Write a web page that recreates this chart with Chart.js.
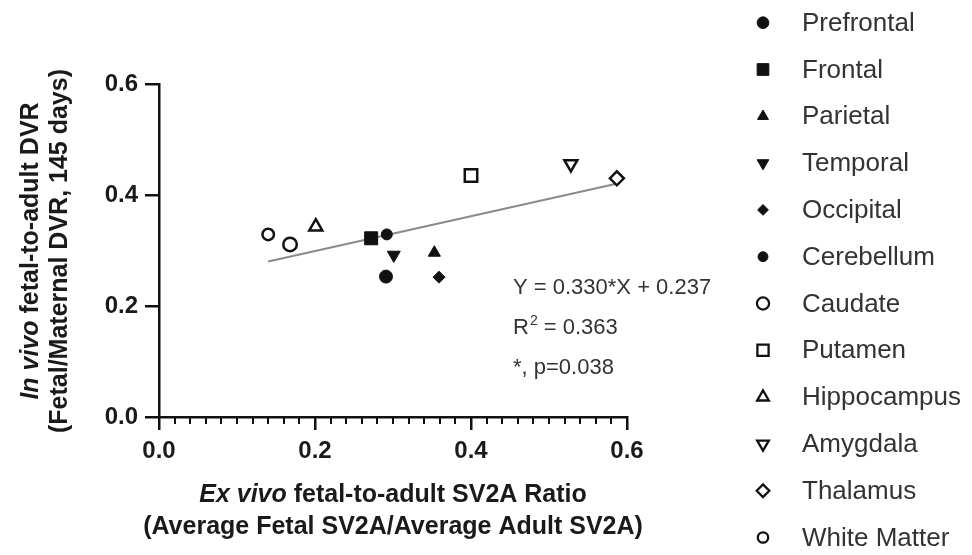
<!DOCTYPE html>
<html><head><meta charset="utf-8">
<script src="https://cdn.jsdelivr.net/npm/chart.js@4.4.1/dist/chart.umd.min.js"></script>
<style>html,body{margin:0;padding:0;background:#fff;}canvas{display:block;}</style>
</head><body>
<canvas id="c" width="972" height="555"></canvas>
<script>
// ---- data ----
const regions = ['Prefrontal','Frontal','Parietal','Temporal','Occipital','Cerebellum','Caudate','Putamen','Hippocampus','Amygdala','Thalamus','White Matter'];
const exVivoRatio = [0.291,0.272,0.353,0.301,0.359,0.292,0.168,0.400,0.201,0.528,0.587,0.140];
const inVivoDVR   = [0.253,0.322,0.296,0.292,0.252,0.329,0.311,0.435,0.343,0.456,0.430,0.329];
const fitLineX = [0.140, 0.585];
const fitLineY = [0.280, 0.420];
const statsText = ['Y = 0.330*X + 0.237', '0.363', '*, p=0.038'];
const xTitle = ['Ex vivo', ' fetal-to-adult SV2A Ratio', '(Average Fetal SV2A/Average Adult SV2A)'];
const yTitle = ['In vivo', ' fetal-to-adult DVR', '(Fetal/Maternal DVR, 145 days)'];

// ---- styles ----
const markerStyles = [
  {s:'circle', r:6.5, rot:0, fill:true},
  {s:'rect', r:9.2, rot:0, fill:true},
  {s:'triangle', r:7, rot:0, fill:true},
  {s:'triangle', r:7.5, rot:180, fill:true},
  {s:'rectRot', r:6, rot:0, fill:true},
  {s:'circle', r:5.5, rot:0, fill:true},
  {s:'circle', r:6.75, rot:0, fill:false},
  {s:'rect', r:8.8, rot:0, fill:false},
  {s:'triangle', r:7.5, rot:0, fill:false},
  {s:'triangle', r:7.5, rot:180, fill:false},
  {s:'rectRot', r:7, rot:0, fill:false},
  {s:'circle', r:5.75, rot:0, fill:false}
];
const INK = '#111';
const FONT = '"Liberation Sans", Arial, Helvetica, sans-serif';

const pointSets = regions.map((name, i) => {
  const st = markerStyles[i];
  return {
    label: name,
    data: [{x: exVivoRatio[i], y: inVivoDVR[i]}],
    xAxisID: 'x', yAxisID: 'y',
    pointStyle: st.s,
    pointRadius: st.r,
    pointHoverRadius: st.r,
    pointRotation: st.rot,
    pointBackgroundColor: st.fill ? INK : '#fff',
    pointBorderColor: INK,
    pointBorderWidth: st.fill ? 1 : 2.5,
    order: 0
  };
});
const fitSet = {
  type: 'line', label: 'fit', isFit: true,
  data: fitLineX.map((x, i) => ({x, y: fitLineY[i]})),
  xAxisID: 'x', yAxisID: 'y',
  borderColor: '#8a8a8a', borderWidth: 2, pointRadius: 0, showLine: true, fill: false, order: 1
};

function mixedLine(ctx, parts, cx, y, size) {
  ctx.font = 'italic bold ' + size + 'px ' + FONT;
  const w1 = ctx.measureText(parts[0]).width;
  ctx.font = 'bold ' + size + 'px ' + FONT;
  const w2 = ctx.measureText(parts[1]).width;
  const sx = cx - (w1 + w2) / 2;
  ctx.textAlign = 'left';
  ctx.font = 'italic bold ' + size + 'px ' + FONT;
  ctx.fillText(parts[0], sx, y);
  ctx.font = 'bold ' + size + 'px ' + FONT;
  ctx.fillText(parts[1], sx + w1, y);
}

const textPlugin = {
  id: 'texts',
  afterDraw(chart) {
    const ctx = chart.ctx;
    const ca = chart.chartArea;
    ctx.save();
    ctx.fillStyle = '#1a1a1a';
    ctx.textBaseline = 'alphabetic';
    // x title
    const cx = (ca.left + ca.right) / 2;
    mixedLine(ctx, xTitle, cx, 502, 25);
    ctx.textAlign = 'center';
    ctx.font = 'bold 25px ' + FONT;
    ctx.fillText(xTitle[2], cx, 534);
    // y title
    ctx.save();
    ctx.translate(38, 251);
    ctx.rotate(-Math.PI / 2);
    mixedLine(ctx, yTitle, 0, 0, 25);
    ctx.textAlign = 'center';
    ctx.font = 'bold 25px ' + FONT;
    ctx.fillText(yTitle[2], 0, 29);
    ctx.restore();
    // stats text
    ctx.fillStyle = '#333';
    ctx.textAlign = 'left';
    ctx.textBaseline = 'middle';
    ctx.font = '22px ' + FONT;
    ctx.fillText(statsText[0], 513, 288);
    ctx.fillText('R', 513, 328);
    const rw = ctx.measureText('R').width;
    ctx.font = '14px ' + FONT;
    ctx.fillText('2', 513 + rw + 1, 321);
    const sw = ctx.measureText('2').width;
    ctx.font = '22px ' + FONT;
    ctx.fillText(' = ' + statsText[1], 513 + rw + 1 + sw, 328);
    ctx.fillText(statsText[2], 513, 368);
    // legend
    const ds = chart.data.datasets.filter(d => !d.isFit);
    ds.forEach((d, i) => {
      const y = 22.7 + i * 46.8;
      const st = markerStyles[i];
      ctx.fillStyle = d.pointBackgroundColor;
      ctx.strokeStyle = d.pointBorderColor;
      ctx.lineWidth = st.fill ? 1 : 2.3;
      Chart.helpers.drawPoint(ctx, {pointStyle: st.s, rotation: st.rot, radius: st.r * 0.9, borderWidth: st.fill ? 1 : 2.3}, 763, y);
      ctx.fillStyle = '#333';
      ctx.font = '26px ' + FONT;
      ctx.textBaseline = 'middle';
      ctx.textAlign = 'left';
      ctx.fillText(d.label, 802, y + 1);
    });
    ctx.restore();
  }
};

const tickFont = {family: FONT, weight: 'bold', size: 24};
new Chart(document.getElementById('c').getContext('2d'), {
  type: 'scatter',
  data: {datasets: [...pointSets, fitSet]},
  options: {
    responsive: false, animation: false, devicePixelRatio: 1,
    layout: {padding: {left: 0, top: 84, right: 345, bottom: 0}},
    plugins: {legend: {display: false}, tooltip: {enabled: false}},
    scales: {
      x: {
        type: 'linear', position: 'bottom', min: 0, max: 0.6, weight: 1,
        afterFit(s) { s.height = 138; },
        border: {display: true, color: INK, width: 2.5},
        grid: {display: true, drawOnChartArea: false, drawTicks: true, tickLength: 13, color: INK, lineWidth: 2.5},
        ticks: {stepSize: 0.2, autoSkip: false, maxRotation: 0, padding: 7, color: '#1a1a1a', font: tickFont, callback: v => Number(v).toFixed(1)}
      },
      xMinor: {
        type: 'linear', position: 'bottom', min: 0, max: 0.6, weight: 0,
        afterFit(s) { s.height = 0; },
        border: {display: false},
        grid: {display: true, drawOnChartArea: false, drawTicks: true, tickLength: 7, color: INK, lineWidth: 2},
        ticks: {display: false, stepSize: 0.02, autoSkip: false}
      },
      y: {
        type: 'linear', position: 'left', min: 0, max: 0.6,
        afterFit(s) { s.width = 159; },
        border: {display: true, color: INK, width: 2.5},
        grid: {display: true, drawOnChartArea: false, drawTicks: true, tickLength: 14, color: INK, lineWidth: 2.5},
        ticks: {stepSize: 0.2, autoSkip: false, padding: 7, color: '#1a1a1a', font: tickFont, callback: v => Number(v).toFixed(1)}
      }
    }
  },
  plugins: [textPlugin]
});
</script>
</body></html>
